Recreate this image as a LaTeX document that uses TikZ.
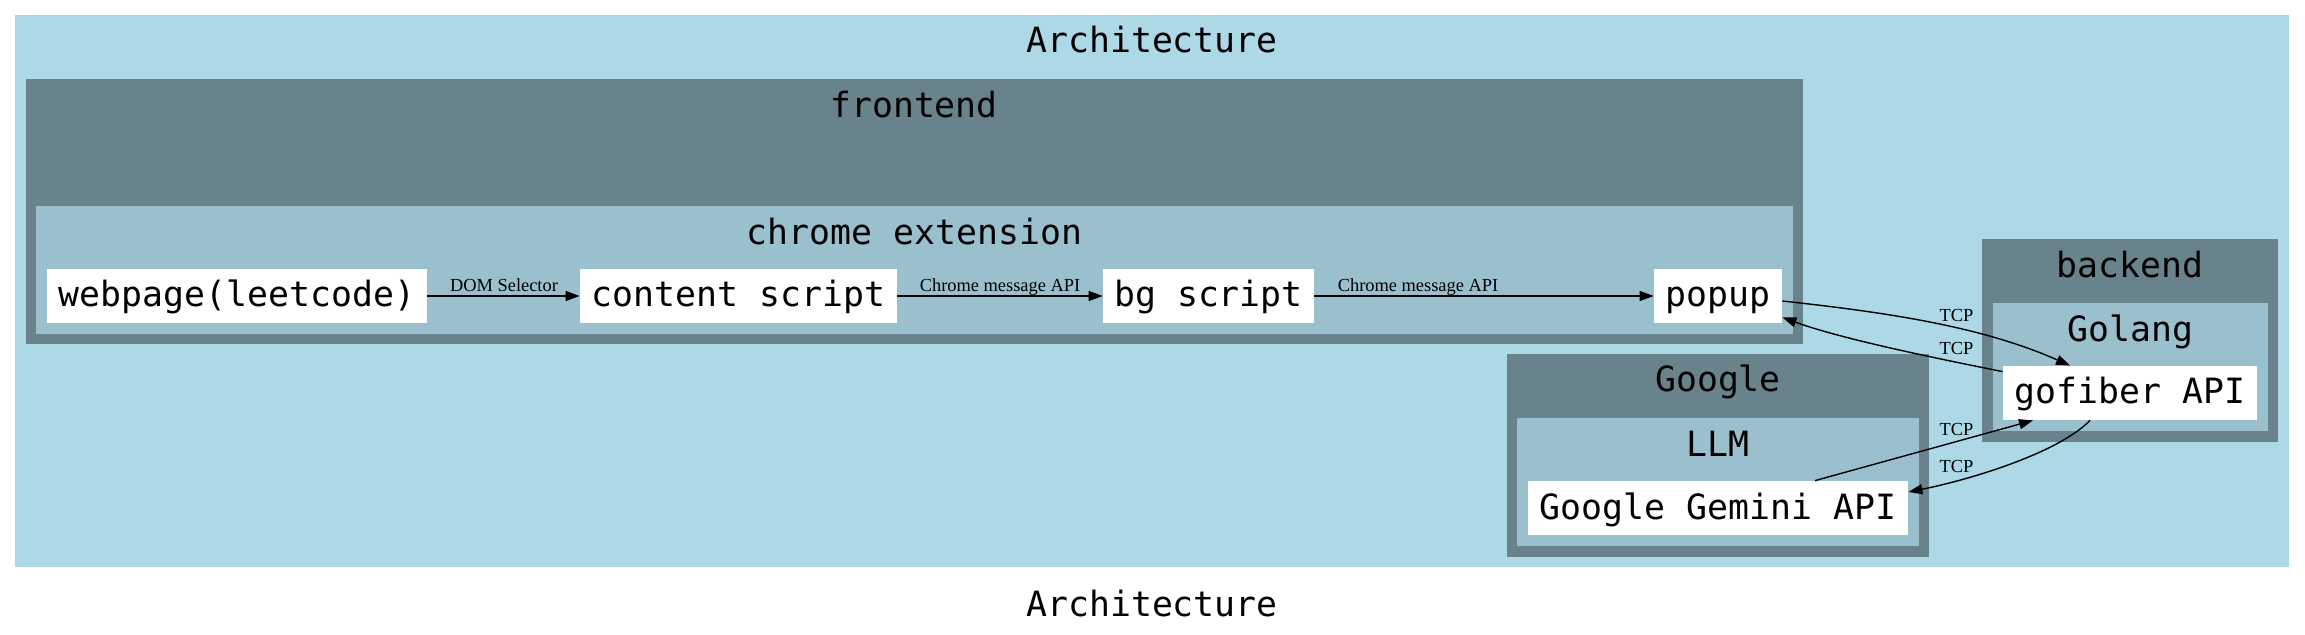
\documentclass[tikz,border=0pt]{standalone}
\usepackage{fontspec}
\setmainfont{Liberation Serif}
\newfontfamily\monofont{DejaVu Sans Mono}
\usetikzlibrary{arrows.meta,calc}
\definecolor{lb}{HTML}{ADD8E6}
\definecolor{lbfour}{HTML}{68838B}
\definecolor{lbthree}{HTML}{9AC0CD}
\begin{document}
\begin{tikzpicture}[x=0.5pt,y=-0.5pt,
  box/.style={fill=white, inner sep=0pt, minimum height=27pt, text height=15pt, text depth=4pt, font=\monofont\fontsize{17.4}{20}\selectfont},
  clabel/.style={anchor=base, inner sep=0pt, font=\monofont\fontsize{17.4}{20}\selectfont},
  elabel/.style={anchor=base, inner sep=0pt, font=\fontsize{9.2}{11}\selectfont},
  conn/.style={-{Triangle[length=7pt,width=5pt]}, line width=0.7pt, black},
  outerc/.style={fill=lb},
  midc/.style={fill=lbfour},
  innerc/.style={fill=lbthree},
]
\fill[white] (0,0) rectangle (2305,635);
\useasboundingbox (0,0) rectangle (2305,635);
% clusters
\fill[outerc] (15,15) rectangle (2289,567);
\fill[midc] (25.5,79) rectangle (1803,344);
\fill[innerc] (36.4,206) rectangle (1793,334);
\fill[midc] (1982,239) rectangle (2278,442);
\fill[innerc] (1993,303) rectangle (2268,431);
\fill[midc] (1507,354) rectangle (1929,557);
\fill[innerc] (1517,418) rectangle (1919,546);
% cluster labels
\node[clabel] (archtop) at (1152,53) {Architecture};
\node[clabel] (archbot) at (1152,616) {Architecture};
\node[clabel] (lfront) at (914,118) {frontend};
\node[clabel] (lchrome) at (914.5,245) {chrome extension};
\node[clabel] (lback) at (2130,278) {backend};
\node[clabel] (lgo) at (2130.5,342) {Golang};
\node[clabel] (lgoogle) at (1718,392) {Google};
\node[clabel] (lllm) at (1718,457) {LLM};
% nodes
\node[box, minimum width=190pt] (web) at (237,296) {webpage(leetcode)};
\node[box, minimum width=158.5pt] (cs) at (738.5,296) {content script};
\node[box, minimum width=105.5pt] (bg) at (1208.5,296) {bg script};
\node[box, minimum width=64pt] (popup) at (1718,296) {popup};
\node[box, minimum width=127pt] (gofiber) at (2130,393) {gofiber API};
\node[box, minimum width=190pt] (gemini) at (1718,508) {Google Gemini API};
% connectors
\draw[conn] (web) -- (cs);
\draw[conn] (cs) -- (bg);
\draw[conn] (bg) -- (popup);
\draw[conn] ($(popup.east)+(0,5)$) .. controls +(100,11) and +(-90,-40) .. ($(gofiber.north)+(-60,0)$);
\draw[conn] ($(gofiber.north west)+(0,6)$) .. controls +(-60,-12) and +(60,22) .. ($(popup.south east)+(0,-6)$);
\draw[conn] ($(gemini.north)+(97,0)$) -- ($(gofiber.south)+(-97,0)$);
\draw[conn] ($(gofiber.south)+(-40,0)$) .. controls +(-32,33) and +(60,-12) .. ($(gemini.east)+(0,-16)$);
% edge labels
\node[elabel] (ldom) at (504,292) {DOM Selector};
\node[elabel] (lcm1) at (1000,292) {Chrome message API};
\node[elabel] (lcm2) at (1418,292) {Chrome message API};
\node[elabel] (ltcp1) at (1956.5,322) {TCP};
\node[elabel] (ltcp2) at (1956.5,355) {TCP};
\node[elabel] (ltcp3) at (1956.5,436) {TCP};
\node[elabel] (ltcp4) at (1956.5,473) {TCP};
\end{tikzpicture}
\end{document}
